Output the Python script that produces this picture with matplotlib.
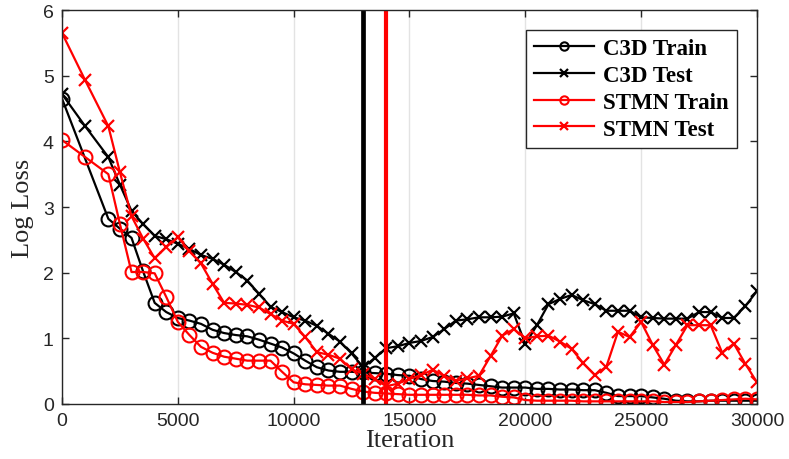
import matplotlib
matplotlib.use("Agg")
import matplotlib.pyplot as plt

# iterations
x_c3d_train = [0] + list(range(2000, 30001, 500))
x_c3d_test = [0, 1000] + list(range(2000, 30001, 500))
x_stmn = [0, 1000] + list(range(2000, 30001, 500))

c3d_train = [4.65, 2.82, 2.67, 2.53, 2.02, 1.54, 1.40, 1.31, 1.27, 1.22,
             1.13, 1.08, 1.05, 1.03, 0.98, 0.92, 0.86, 0.77, 0.66, 0.56,
             0.51, 0.49, 0.49, 0.48, 0.47, 0.46, 0.44, 0.43, 0.38, 0.35,
             0.34, 0.32, 0.31, 0.29, 0.27, 0.25, 0.25, 0.25, 0.23, 0.23,
             0.22, 0.22, 0.21, 0.21, 0.17, 0.12, 0.12, 0.12, 0.10, 0.08,
             0.05, 0.04, 0.04, 0.05, 0.05, 0.05, 0.05, 0.05]

c3d_test = [4.72, 4.23, 3.76, 3.34, 2.94, 2.74, 2.56, 2.51, 2.44, 2.36,
            2.27, 2.21, 2.12, 2.01, 1.88, 1.68, 1.48, 1.40, 1.32, 1.27,
            1.19, 1.07, 0.95, 0.77, 0.56, 0.70, 0.85, 0.88, 0.93, 0.96,
            1.02, 1.14, 1.27, 1.29, 1.32, 1.32, 1.33, 1.38, 0.91, 1.20,
            1.52, 1.60, 1.66, 1.58, 1.52, 1.42, 1.42, 1.42, 1.32, 1.31,
            1.30, 1.30, 1.30, 1.40, 1.40, 1.31, 1.31, 1.49, 1.72]

stmn_train = [4.02, 3.76, 3.50, 2.74, 2.01, 2.01, 1.99, 1.63, 1.25, 1.05,
              0.87, 0.78, 0.72, 0.69, 0.66, 0.66, 0.66, 0.49, 0.33, 0.30,
              0.29, 0.28, 0.28, 0.23, 0.19, 0.17, 0.16, 0.15, 0.14, 0.14,
              0.14, 0.14, 0.14, 0.14, 0.13, 0.13, 0.11, 0.10, 0.06, 0.05,
              0.05, 0.05, 0.05, 0.04, 0.04, 0.04, 0.04, 0.04, 0.04, 0.04,
              0.03, 0.03, 0.03, 0.04, 0.05, 0.06, 0.07, 0.08, 0.07]

stmn_test = [5.65, 4.93, 4.23, 3.53, 2.86, 2.52, 2.22, 2.39, 2.54, 2.33,
             2.14, 1.83, 1.54, 1.53, 1.51, 1.47, 1.37, 1.27, 1.22, 1.02,
             0.79, 0.75, 0.69, 0.53, 0.46, 0.38, 0.27, 0.31, 0.38, 0.44,
             0.52, 0.43, 0.35, 0.39, 0.43, 0.73, 1.04, 1.14, 1.00, 1.03,
             1.04, 0.95, 0.84, 0.62, 0.44, 0.57, 1.10, 1.02, 1.25, 0.90,
             0.60, 0.90, 1.20, 1.20, 1.20, 0.78, 0.92, 0.61, 0.33]

# switch points (vertical lines)
c3d_switch = 13000
stmn_switch = 14000

txt_color = "#262626"

fig = plt.figure(figsize=(7.89, 4.60), dpi=100)
ax = fig.add_axes([0.0786, 0.1196, 0.8808, 0.8564])

ax.grid(axis="x", color="#e3e3e3", linewidth=1.0)
ax.set_axisbelow(True)

ax.plot(x_c3d_train, c3d_train, color="black", lw=1.6, marker="o",
        ms=10, mfc="none", mew=1.5, label="C3D Train")
ax.plot(x_c3d_test, c3d_test, color="black", lw=1.6, marker="x",
        ms=8.5, mew=1.6, label="C3D Test")
ax.plot(x_stmn, stmn_train, color="red", lw=1.6, marker="o",
        ms=10, mfc="none", mew=1.5, label="STMN Train")
ax.plot(x_stmn, stmn_test, color="red", lw=1.6, marker="x",
        ms=8.5, mew=1.6, label="STMN Test")

ax.axvline(c3d_switch, color="black", lw=3.4)
ax.axvline(stmn_switch, color="red", lw=3.0)

ax.set_xlim(0, 30000)
ax.set_ylim(0, 6)
ax.set_xticks(range(0, 30001, 5000))
ax.set_yticks(range(0, 7))

for s in ax.spines.values():
    s.set_color(txt_color)
    s.set_linewidth(1.0)

ax.tick_params(direction="in", top=True, right=True, length=5, width=1.0,
               colors=txt_color, labelsize=14, pad=6)
for lbl in ax.get_xticklabels() + ax.get_yticklabels():
    lbl.set_fontfamily("Liberation Sans")

ax.set_xlabel("Iteration", fontfamily="Liberation Serif", fontsize=19,
              color=txt_color, labelpad=0)
ax.set_ylabel("Log Loss", fontfamily="Liberation Serif", fontsize=19,
              color=txt_color, labelpad=6)

leg = ax.legend(loc="upper right", bbox_to_anchor=(0.971, 0.949),
                borderaxespad=0,
                prop={"family": "Liberation Serif", "weight": "bold", "size": 16.5},
                fancybox=False, edgecolor=txt_color, framealpha=1,
                handlelength=2.6, markerscale=0.6, labelspacing=0.25,
                borderpad=0.35, handletextpad=0.4)
leg.get_frame().set_linewidth(1.0)

fig.savefig("out.png", dpi=100)
